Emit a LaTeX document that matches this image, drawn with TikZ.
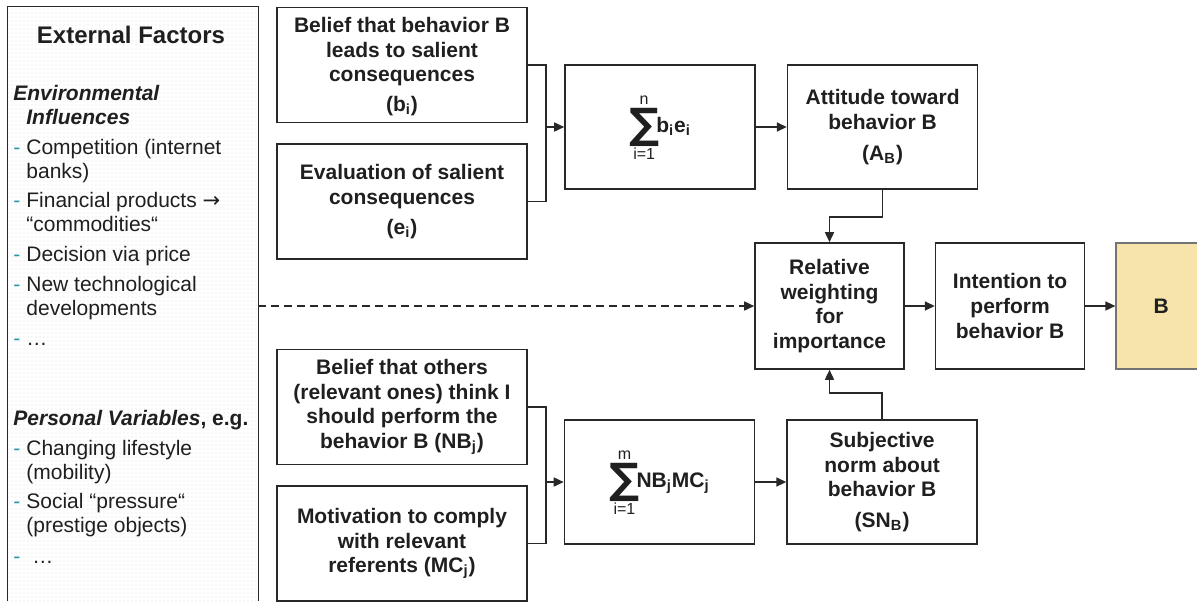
\documentclass[tikz,border=0pt]{standalone}
\usepackage{fontspec}
\setmainfont{Liberation Sans}
\newfontfamily\sigmafont{DejaVu Sans}
\usetikzlibrary{positioning,arrows.meta,patterns.meta,calc}
\definecolor{boxline}{RGB}{40,40,40}
\definecolor{outfill}{RGB}{246,228,170}
\definecolor{dashteal}{RGB}{40,150,165}
\newcommand{\boxfont}{\fontsize{10.5}{12.3}\selectfont\bfseries}
\newcommand{\listfont}{\fontsize{10.5}{12}\selectfont}
\newcommand{\itm}{\makebox[6.5pt][l]{\color{dashteal}-}}
\newcommand{\ind}{\hspace*{6.5pt}}
\newcommand{\sumof}[2]{\begin{tabular}{@{}c@{}}{\mdseries\fontsize{8}{8}\selectfont #1}\\[-2pt]{\sigmafont\fontsize{21}{21}\selectfont ∑}\\[-2pt]{\mdseries\fontsize{8}{8}\selectfont i=1}\end{tabular}\hspace{-1.5pt}#2}
\tikzset{
  factor/.style={draw=boxline, line width=0.8pt, minimum width=125pt, minimum height=57.5pt, align=center, font=\boxfont, text=black!88, inner sep=2pt},
  sumbox/.style={factor, minimum width=95pt, minimum height=62pt},
  stage/.style={factor, minimum width=74.5pt, minimum height=63pt},
  flow/.style={line width=0.8pt, draw=boxline, -{Triangle[length=5pt,width=4.5pt]}},
}

\begin{document}
\begin{tikzpicture}[x=0.5pt, y=-0.5pt]
  \useasboundingbox (0,0) rectangle (1197,601);

  \node [minimum width=125pt, minimum height=297pt, inner sep=0, pattern={Dots[distance=2pt,radius=0.3pt]}, pattern color=black!14] (panel) at (133,304) {};
  \draw [boxline, line width=0.8pt] (panel.south west) -- (panel.north west) -- (panel.north east) -- (panel.south east);
  \node [font=\fontsize{12}{14}\selectfont\bfseries, text=black!88] (title) at (131,35) {External Factors};
  \node [font=\listfont, align=left, anchor=north west, inner sep=0, text=black!88] (envlist) at (13,85) {%
    {\bfseries\itshape Environmental}\\
    \ind{\bfseries\itshape Influences}\\[3pt]
    \itm Competition (internet\\
    \ind banks)\\[2.5pt]
    \itm Financial products {\sigmafont →}\\
    \ind “commodities“\\[3pt]
    \itm Decision via price\\[3pt]
    \itm New technological\\
    \ind developments\\[3pt]
    \itm …};
  \node [font=\listfont, align=left, anchor=north west, inner sep=0, text=black!88] (perslist) at (13,410) {%
    {\bfseries\itshape Personal Variables}\textbf{, e.g.}\\[3pt]
    \itm Changing lifestyle\\
    \ind (mobility)\\[2.5pt]
    \itm Social “pressure“\\
    \ind (prestige objects)\\[3.5pt]
    \itm\hspace{3pt}…};

  \node [factor] (belief) at (402,65) {\rule{0pt}{9pt}Belief that behavior B\\leads to salient\\consequences\\[2.5pt](b\textsubscript{i})};
  \node [factor, below=10pt of belief] (evaluation) {Evaluation of salient\\consequences\\[3pt](e\textsubscript{i})};
  \node [factor] (normbelief) at (402,407) {Belief that others\\(relevant ones) think I\\should perform the\\behavior B (NB\textsubscript{j})};
  \node [factor, below=10pt of normbelief] (motivation) {Motivation to comply\\with relevant\\referents (MC\textsubscript{j})};

  \node [sumbox] (sumbe) at (660,127) {\sumof{n}{b\textsubscript{i}e\textsubscript{i}}};
  \node [sumbox] (sumnm) at (659.5,482) {\sumof{m}{NB\textsubscript{j}MC\textsubscript{j}}};
  \node [sumbox, right=15.5pt of sumbe] (attitude) {Attitude toward\\behavior B\\[3pt](A\textsubscript{B})};
  \node [sumbox, right=15.5pt of sumnm] (subnorm) {Subjective\\norm about\\behavior B\\[3pt](SN\textsubscript{B})};

  \node [stage] (weighting) at (829.5,306) {Relative\\weighting\\for\\importance};
  \node [stage, right=15pt of weighting] (intention) {Intention to\\perform\\behavior B};
  \node [stage, minimum width=45pt, fill=outfill, draw=black!55, right=15pt of intention] (behavior) {B};

  \coordinate (joinbe) at ($(belief.east)!0.5!(sumbe.west)$);
  \coordinate (joinnm) at ($(normbelief.east)!0.5!(sumnm.west)$);
  \draw [boxline, line width=0.8pt] (belief.east) -| (joinbe) |- (evaluation.east);
  \draw [boxline, line width=0.8pt] (normbelief.east) -| (joinnm) |- (motivation.east);
  \draw [flow] (joinbe |- sumbe.west) -- (sumbe.west);
  \draw [flow] (joinnm |- sumnm.west) -- (sumnm.west);
  \draw [flow] (sumbe) -- (attitude);
  \draw [flow] (sumnm) -- (subnorm);
  \draw [flow] (attitude.south) -- ++(0,27) -| (weighting.north);
  \draw [flow] (subnorm.north) -- ++(0,-26) -| (weighting.south);
  \draw [flow] (weighting) -- (intention);
  \draw [flow] (intention) -- (behavior);
  \draw [flow, dash pattern=on 4pt off 2.5pt] (weighting.west -| panel.east) -- (weighting.west);
\end{tikzpicture}
\end{document}
